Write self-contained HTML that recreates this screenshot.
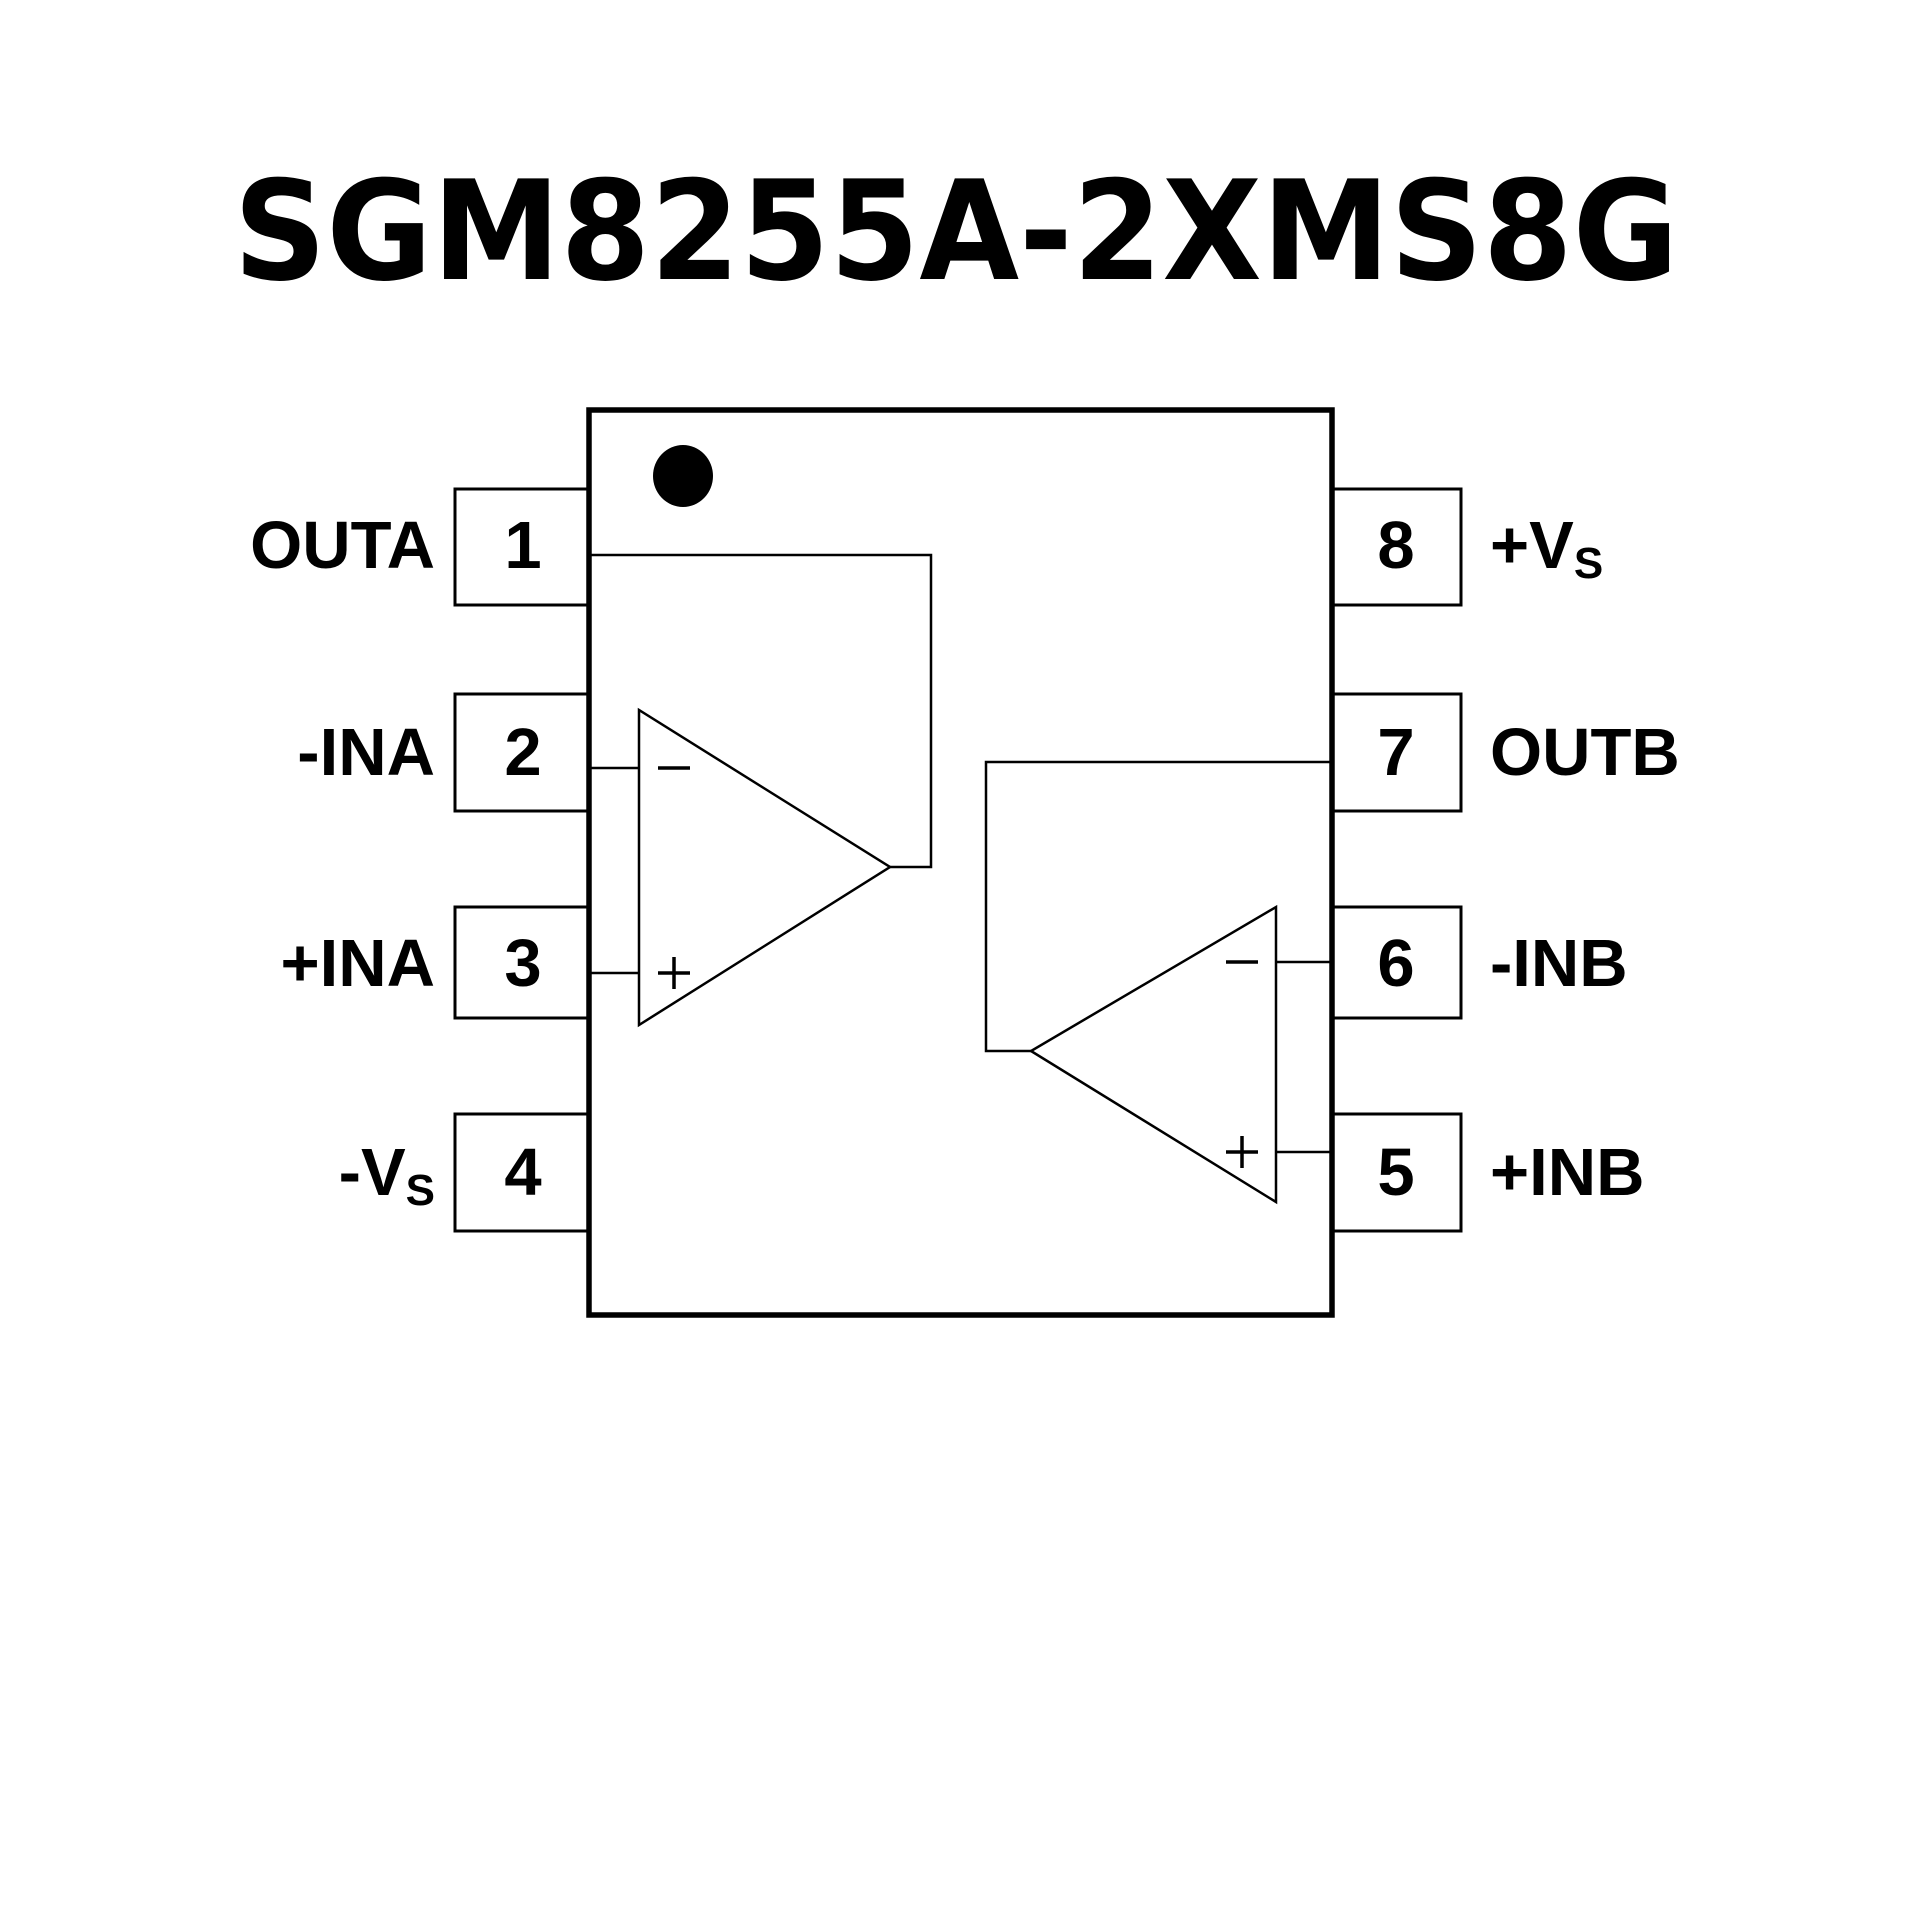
<!DOCTYPE html>
<html><head><meta charset="utf-8"><style>html,body{margin:0;padding:0;background:#fff}svg{display:block}</style></head>
<body>
<svg width="1920" height="1920" viewBox="0 0 1920 1920" xmlns="http://www.w3.org/2000/svg">
<rect width="1920" height="1920" fill="#fff"/>
<text x="956" y="279" text-anchor="middle" font-family="DejaVu Sans, sans-serif" font-weight="bold" font-size="138" textLength="1445" lengthAdjust="spacingAndGlyphs">SGM8255A-2XMS8G</text>
<g fill="none" stroke="#000" stroke-linejoin="miter">
<rect x="589" y="410" width="743" height="905" stroke-width="5.5"/>
<g stroke-width="3">
<rect x="455" y="489" width="134" height="116"/>
<rect x="455" y="694" width="134" height="117"/>
<rect x="455" y="907" width="134" height="111"/>
<rect x="455" y="1114" width="134" height="117"/>
<rect x="1332" y="489" width="129" height="116"/>
<rect x="1332" y="694" width="129" height="117"/>
<rect x="1332" y="907" width="129" height="111"/>
<rect x="1332" y="1114" width="129" height="117"/>
</g>
<g stroke-width="2.5">
<polyline points="589,555 931,555 931,867 890,867"/>
<polygon points="639,710 639,1025 890,867"/>
<line x1="589" y1="768" x2="639" y2="768"/>
<line x1="589" y1="973" x2="639" y2="973"/>
<polyline points="1332,762 986,762 986,1051 1031,1051"/>
<polygon points="1276,907 1276,1202 1031,1051"/>
<line x1="1276" y1="962" x2="1332" y2="962"/>
<line x1="1276" y1="1152" x2="1332" y2="1152"/>
</g>
<g stroke-width="3.5">
<line x1="658" y1="768" x2="690" y2="768"/>
<line x1="658" y1="973" x2="690" y2="973"/><line x1="674" y1="957" x2="674" y2="989"/>
<line x1="1226" y1="962" x2="1258" y2="962"/>
<line x1="1226" y1="1152" x2="1258" y2="1152"/><line x1="1242" y1="1136" x2="1242" y2="1168"/>
</g>
</g>
<ellipse cx="683" cy="476" rx="30" ry="31" fill="#000"/>
<g font-family="Liberation Sans, Arial, sans-serif" font-weight="bold" font-size="67" fill="#000">
<g text-anchor="middle">
<text x="523" y="568">1</text>
<text x="523" y="775">2</text>
<text x="523" y="986">3</text>
<text x="523" y="1195">4</text>
<text x="1396" y="568">8</text>
<text x="1396" y="775">7</text>
<text x="1396" y="986">6</text>
<text x="1396" y="1195">5</text>
</g>
<g text-anchor="end">
<text x="435" y="568">OUTA</text>
<text x="435" y="775">-INA</text>
<text x="435" y="986">+INA</text>
<text x="435" y="1195">-V<tspan font-size="44" dy="10">S</tspan></text>
</g>
<text x="1490" y="568">+V<tspan font-size="44" dy="10">S</tspan></text>
<text x="1490" y="775">OUTB</text>
<text x="1490" y="986">-INB</text>
<text x="1490" y="1195">+INB</text>
</g>
</svg>
</body></html>
